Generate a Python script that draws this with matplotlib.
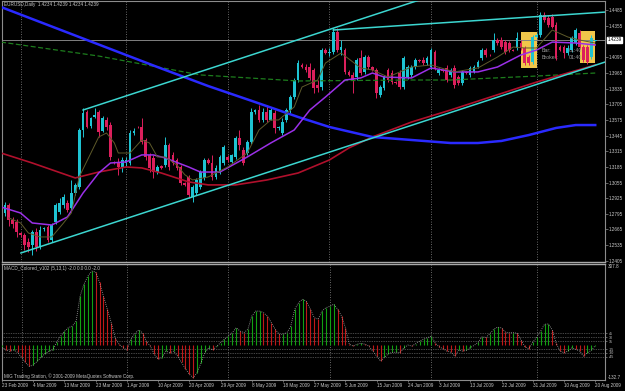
import matplotlib.pyplot as plt
from matplotlib.patches import Rectangle
from matplotlib.transforms import blended_transform_factory

plt.rcParams["font.family"] = ["Liberation Sans", "DejaVu Sans"]

# EURUSD daily bars (broker has Sunday bars)
opens = [
    1.2802, 1.2802, 1.2868, 1.2744, 1.2727, 1.2636, 1.2619, 1.2561, 1.2536, 1.2644,
    1.2520, 1.2669, 1.2686, 1.2578, 1.2727, 1.2810, 1.2868, 1.2885, 1.2844, 1.2968,
    1.3018, 1.3491, 1.3640, 1.3524, 1.3600, 1.3640, 1.3480, 1.3574, 1.3532, 1.3226,
    1.3226, 1.3184, 1.3217, 1.3217, 1.3466, 1.3516, 1.3516, 1.3408, 1.3284, 1.3259,
    1.3142, 1.3192, 1.3200, 1.3366, 1.3284, 1.3242, 1.3184, 1.3051, 1.3101, 1.2935,
    1.2968, 1.3018, 1.3093, 1.3242, 1.3217, 1.3101, 1.3142, 1.3217, 1.3267, 1.3226,
    1.3267, 1.3425, 1.3325, 1.3300, 1.3391, 1.3640, 1.3657, 1.3574, 1.3640, 1.3574,
    1.3632, 1.3507, 1.3466, 1.3574, 1.3657, 1.3765, 1.3906, 1.4031, 1.4014, 1.4014,
    1.3989, 1.3865, 1.3848, 1.4155, 1.4130, 1.4139, 1.4304, 1.4155, 1.4155, 1.3972,
    1.3948, 1.3931, 1.4089, 1.3972, 1.4097, 1.4014, 1.3989, 1.3782, 1.3840, 1.3989,
    1.3964, 1.3889, 1.3964, 1.3848, 1.3931, 1.3948, 1.4014, 1.4072, 1.4072, 1.4047,
    1.4014, 1.4139, 1.3964, 1.3989, 1.4006, 1.3948, 1.4006, 1.3931, 1.3881, 1.3973,
    1.3948, 1.3973, 1.4014, 1.4089, 1.4155, 1.4114, 1.4155, 1.4238, 1.4238, 1.4221,
    1.4213, 1.4155, 1.4172, 1.4213, 1.4172, 1.4097, 1.4055, 1.4263, 1.4280, 1.4445,
    1.4420, 1.4429, 1.4362, 1.4180, 1.4180, 1.4130, 1.4155, 1.4213, 1.4296, 1.4180,
    1.4180, 1.4097, 1.4234]
highs = [
    1.2827, 1.2893, 1.2885, 1.2769, 1.2752, 1.2644, 1.2636, 1.2595, 1.2661, 1.2678,
    1.2694, 1.2686, 1.2702, 1.2719, 1.2885, 1.2927, 1.2960, 1.2910, 1.3076, 1.3051,
    1.3507, 1.3674, 1.3657, 1.3600, 1.3674, 1.3657, 1.3607, 1.3599, 1.3557, 1.3234,
    1.3259, 1.3267, 1.3267, 1.3491, 1.3507, 1.3524, 1.3591, 1.3425, 1.3300, 1.3284,
    1.3200, 1.3200, 1.3433, 1.3383, 1.3309, 1.3259, 1.3200, 1.3060, 1.3117, 1.3035,
    1.3093, 1.3159, 1.3259, 1.3259, 1.3284, 1.3200, 1.3284, 1.3366, 1.3284, 1.3292,
    1.3441, 1.3491, 1.3350, 1.3408, 1.3674, 1.3665, 1.3699, 1.3674, 1.3699, 1.3674,
    1.3657, 1.3524, 1.3591, 1.3674, 1.3782, 1.3922, 1.4072, 1.4047, 1.4039, 1.4047,
    1.4006, 1.3906, 1.4172, 1.4172, 1.4172, 1.4338, 1.4338, 1.4238, 1.4172, 1.3989,
    1.3972, 1.4089, 1.4155, 1.4114, 1.4114, 1.4022, 1.4006, 1.3865, 1.3948, 1.4006,
    1.3989, 1.3898, 1.3989, 1.4105, 1.4031, 1.4031, 1.4089, 1.4080, 1.4097, 1.4105,
    1.4172, 1.4155, 1.4006, 1.3998, 1.4031, 1.4006, 1.4031, 1.3948, 1.3989, 1.3981,
    1.4022, 1.4031, 1.4072, 1.4172, 1.4172, 1.4122, 1.4296, 1.4255, 1.4263, 1.4238,
    1.4230, 1.4164, 1.4304, 1.4238, 1.4188, 1.4114, 1.4280, 1.4296, 1.4470, 1.4470,
    1.4445, 1.4454, 1.4387, 1.4197, 1.4197, 1.4197, 1.4271, 1.4338, 1.4321, 1.4197,
    1.4197, 1.4280, 1.4239]
lows = [
    1.2678, 1.2777, 1.2694, 1.2678, 1.2603, 1.2603, 1.2495, 1.2478, 1.2453, 1.2487,
    1.2503, 1.2653, 1.2561, 1.2561, 1.2711, 1.2794, 1.2844, 1.2810, 1.2827, 1.2951,
    1.3001, 1.3433, 1.3507, 1.3507, 1.3591, 1.3433, 1.3475, 1.3491, 1.3242, 1.3209,
    1.3117, 1.3142, 1.3192, 1.3200, 1.3449, 1.3507, 1.3375, 1.3242, 1.3142, 1.3093,
    1.3126, 1.3167, 1.3184, 1.3159, 1.3200, 1.3159, 1.3035, 1.3027, 1.2927, 1.2893,
    1.2952, 1.3001, 1.3076, 1.3209, 1.3076, 1.3084, 1.3126, 1.3200, 1.3226, 1.3217,
    1.3251, 1.3325, 1.3200, 1.3284, 1.3375, 1.3624, 1.3557, 1.3557, 1.3557, 1.3574,
    1.3466, 1.3491, 1.3449, 1.3557, 1.3632, 1.3748, 1.3889, 1.4006, 1.3973, 1.3906,
    1.3798, 1.3806, 1.3823, 1.4122, 1.4105, 1.4122, 1.4139, 1.4114, 1.3956, 1.3939,
    1.3798, 1.3906, 1.3948, 1.3956, 1.3998, 1.3981, 1.3757, 1.3765, 1.3823, 1.3889,
    1.3873, 1.3873, 1.3831, 1.3831, 1.3915, 1.3931, 1.3998, 1.4055, 1.4031, 1.4031,
    1.3998, 1.3989, 1.3948, 1.3973, 1.3889, 1.3931, 1.3840, 1.3865, 1.3865, 1.3956,
    1.3931, 1.3964, 1.4006, 1.4072, 1.4097, 1.4105, 1.4139, 1.4197, 1.4164, 1.4122,
    1.4139, 1.4147, 1.4155, 1.4155, 1.4031, 1.4031, 1.4039, 1.4255, 1.4263, 1.4387,
    1.4346, 1.4338, 1.4072, 1.4147, 1.4089, 1.4114, 1.4139, 1.4197, 1.4164, 1.4055,
    1.4039, 1.4080, 1.4234]
closes = [
    1.2702, 1.2868, 1.2744, 1.2711, 1.2644, 1.2619, 1.2536, 1.2520, 1.2644, 1.2520,
    1.2661, 1.2678, 1.2578, 1.2702, 1.2868, 1.2885, 1.2935, 1.2827, 1.2968, 1.3034,
    1.3491, 1.3632, 1.3516, 1.3590, 1.3615, 1.3475, 1.3591, 1.3516, 1.3267, 1.3217,
    1.3184, 1.3242, 1.3242, 1.3466, 1.3482, 1.3512, 1.3391, 1.3267, 1.3176, 1.3142,
    1.3184, 1.3176, 1.3366, 1.3184, 1.3217, 1.3176, 1.3051, 1.3035, 1.2952, 1.3018,
    1.3076, 1.3142, 1.3242, 1.3217, 1.3101, 1.3176, 1.3267, 1.3350, 1.3242, 1.3284,
    1.3425, 1.3366, 1.3217, 1.3391, 1.3640, 1.3657, 1.3574, 1.3640, 1.3574, 1.3657,
    1.3507, 1.3516, 1.3557, 1.3657, 1.3765, 1.3906, 1.4047, 1.4014, 1.3989, 1.3923,
    1.3840, 1.3840, 1.4155, 1.4130, 1.4139, 1.4304, 1.4155, 1.4180, 1.3972, 1.3948,
    1.3906, 1.4072, 1.3964, 1.4097, 1.4014, 1.3989, 1.3798, 1.3848, 1.3931, 1.3906,
    1.3889, 1.3881, 1.3848, 1.4089, 1.4014, 1.4014, 1.4072, 1.4064, 1.4047, 1.4089,
    1.4155, 1.4006, 1.3989, 1.3981, 1.3906, 1.3989, 1.3865, 1.3881, 1.3973, 1.3964,
    1.4006, 1.4014, 1.4055, 1.4155, 1.4114, 1.4110, 1.4238, 1.4213, 1.4180, 1.4139,
    1.4155, 1.4150, 1.4255, 1.4172, 1.4047, 1.4047, 1.4263, 1.4280, 1.4445, 1.4404,
    1.4362, 1.4346, 1.4089, 1.4155, 1.4130, 1.4172, 1.4255, 1.4321, 1.4180, 1.4072,
    1.4055, 1.4255, 1.4239]

# MACD_Colored histogram values per bar
macd = [
    -8, -19, -24, -19, -28, -47, -66, -81, -76, -62,
    -47, -33, -24, -19, 10, 34, 52, 66, 72, 91,
    186, 231, 262, 281, 277, 238, 186, 136, 85, 28,
    3, -10, -19, 22, 43, 57, 47, 14, -4, -35,
    -54, -48, -23, -29, -23, -42, -66, -90, -111, -124,
    -105, -67, -28, -10, -19, -5, 9, 22, 34, 47,
    66, 53, 47, 60, 110, 129, 129, 123, 110, 85,
    60, 41, 41, 47, 72, 136, 161, 174, 166, 136,
    104, 98, 129, 142, 147, 155, 136, 110, 66, 3,
    -4, 3, 7, 3, -4, -23, -42, -61, -47, -33,
    -28, -27, -29, -10, 0, -4, 5, 15, 22, 28,
    34, 7, -7, -14, -23, -27, -42, -19, -23, -20,
    -10, -1, 11, 31, 29, 43, 60, 68, 65, 49,
    47, 47, 45, 19, -7, -14, 11, 30, 53, 79,
    80, 57, 7, -23, -29, -23, -11, -16, -23, -42,
    -29, -20, -2]
macd_levels = [45, 30, 15, -15, -30, -45]

# moving averages, read at a few bars each
blue_bars = [0, 20, 40, 53, 65, 76, 84, 95, 105, 115, 122, 128, 135, 142, 147, 152]
blue_vals = [1.4512, 1.4263, 1.4014, 1.3856, 1.3723, 1.3599, 1.3516, 1.3433, 1.3408,
             1.3383, 1.3383, 1.3400, 1.3449, 1.3508, 1.3532, 1.3532]
green_bars = [0, 25, 51, 76, 105, 115, 137, 152]
green_vals = [1.4221, 1.4105, 1.3948, 1.3898, 1.3906, 1.3906, 1.3939, 1.3964]
red_bars = [0, 8, 19, 25, 32, 36, 41, 48, 53, 60, 68, 76, 84, 89, 95, 105, 115, 137, 152]
red_vals = [1.3300, 1.3217, 1.3093, 1.3142, 1.3184, 1.3176, 1.3134, 1.3060, 1.3035,
            1.3035, 1.3076, 1.3134, 1.3242, 1.3342, 1.3433, 1.3557, 1.3657, 1.3889, 1.4031]
purple_bars = [0, 5, 8, 13, 17, 21, 25, 28, 32, 36, 39, 42, 48, 51, 56, 63, 69, 75, 79,
               83, 88, 92, 95, 98, 105, 110, 116, 122, 127, 133, 137, 141, 147, 152]
purple_vals = [1.2852, 1.2802, 1.2719, 1.2702, 1.2769, 1.2968, 1.3134, 1.3217, 1.3226,
               1.3284, 1.3284, 1.3259, 1.3184, 1.3142, 1.3142, 1.3267, 1.3383, 1.3491,
               1.3657, 1.3765, 1.3906, 1.3923, 1.3964, 1.3931, 1.3923, 1.4006, 1.3973,
               1.3973, 1.4014, 1.4114, 1.4155, 1.4221, 1.4213, 1.4197]
olive_bars = [2, 5, 7, 10, 13, 16, 18, 20, 23, 25, 27, 29, 30, 33, 36, 38, 40, 42, 45, 47,
              49, 53, 58, 63, 66, 69, 71, 75, 77, 81, 83, 87, 92, 95, 99, 105, 110, 116,
              122, 127, 131, 134, 137, 141, 145, 148, 152]
olive_vals = [1.2761, 1.2719, 1.2636, 1.2603, 1.2603, 1.2719, 1.2802, 1.3101, 1.3300,
              1.3433, 1.3466, 1.3383, 1.3300, 1.3300, 1.3408, 1.3383, 1.3267, 1.3267,
              1.3200, 1.3120, 1.3076, 1.3101, 1.3184, 1.3300, 1.3491, 1.3574, 1.3574,
              1.3682, 1.3848, 1.3906, 1.4047, 1.4130, 1.4006, 1.3989, 1.3931, 1.4014,
              1.4031, 1.3973, 1.4006, 1.4097, 1.4180, 1.4172, 1.4172, 1.4321, 1.4263,
              1.4238, 1.4213]

# trend lines (two anchor points each)
channel_low = ([5.1, 154.5], [1.2470, 1.4055])
channel_high = ([21, 107], [1.3657, 1.4570])
resistance = ([85, 154.5], [1.4321, 1.4470])

# yellow rectangles: (first bar, last bar, low, high)
boxes = [(133, 137.1, 1.4006, 1.4304), (148.1, 151.9, 1.4047, 1.4313)]

price_ticks = [1.4485, 1.4355, 1.4095, 1.3965, 1.3835, 1.3705, 1.3575, 1.3445,
               1.3315, 1.3185, 1.3055, 1.2925, 1.2795, 1.2665, 1.2535, 1.2405]
date_labels = ["23 Feb 2009", "4 Mar 2009", "13 Mar 2009", "23 Mar 2009", "1 Apr 2009",
               "10 Apr 2009", "20 Apr 2009", "29 Apr 2009", "8 May 2009", "18 May 2009",
               "27 May 2009", "5 Jun 2009", "15 Jun 2009", "24 Jun 2009", "3 Jul 2009",
               "13 Jul 2009", "22 Jul 2009", "31 Jul 2009", "10 Aug 2009", "20 Aug 2009"]
date_bars = list(range(0, 153, 8))
month_bars = [5, 32, 58, 84, 110, 137]
last_price = 1.4239

BULL = "#1ec3d2"
BEAR = "#dc1f5c"
GRID = "#8a8a8a"
TXT = "#c8c8c8"
FS = 3.3

bars = list(range(len(closes)))

fig = plt.figure(figsize=(6.25, 3.91), dpi=100, facecolor="black")
ax = fig.add_axes([2 / 625, 129 / 391, 603 / 625, 261 / 391], facecolor="black")
ax2 = fig.add_axes([2 / 625, 11 / 391, 603 / 625, 116 / 391], facecolor="black")

# --- price panel ---
for b in month_bars:
    ax.axvline(b, color=GRID, lw=0.6, ls=(0, (1, 2)), zorder=1)
    ax2.axvline(b, color=GRID, lw=0.6, ls=(0, (1, 2)), zorder=1)

for x0, x1, lo, hi in boxes:
    ax.add_patch(Rectangle((x0, lo), x1 - x0, hi - lo, fc="#f0c64a", ec="none", zorder=2))

ax.axhline(last_price, color="#808080", lw=0.7, zorder=2)

colors = [BULL if c >= o else BEAR for o, c in zip(opens, closes)]
ax.vlines(bars, lows, highs, colors=colors, linewidth=0.7, zorder=3)
bottoms = [min(o, c) for o, c in zip(opens, closes)]
heights = [max(abs(c - o), 0.0004) for o, c in zip(opens, closes)]
ax.bar(bars, heights, bottom=bottoms, width=0.7, color=colors, linewidth=0, zorder=4)

ax.plot(green_bars, green_vals, color="#1d7d1d", lw=0.9, ls=(0, (4, 2)), zorder=5)
ax.plot(red_bars, red_vals, color="#b0102c", lw=1.2, zorder=5)
ax.plot(blue_bars, blue_vals, color="#2a2aff", lw=1.8, zorder=5)
ax.plot(purple_bars, purple_vals, color="#9b30e8", lw=1.1, zorder=6)
ax.plot(olive_bars, olive_vals, color="#5e5a2a", lw=0.7, zorder=6)
for xs, ys in (channel_low, channel_high, resistance):
    ax.plot(xs, ys, color="#3cd6d0", lw=1.1, zorder=6)

ax.set_xlim(0.26, 154.5)
ax.set_ylim(1.2395, 1.4562)
ax.yaxis.tick_right()
ax.set_yticks(price_ticks)
ax.set_yticklabels([f"{p:.4f}" for p in price_ticks])
ax.tick_params(axis="y", length=2, width=0.5, color=GRID, labelcolor=TXT, labelsize=FS, pad=1)
ax.tick_params(axis="x", bottom=False, labelbottom=False)

trans = blended_transform_factory(ax.transAxes, ax.transData)
ax.text(1.004, last_price, f"{last_price:.4f}", transform=trans, fontsize=FS, color="black",
        va="center", ha="left", bbox=dict(boxstyle="square,pad=0.15", fc="white", ec="white"))

ax.text(0.004, 0.985, "EURUSD,Daily  1.4234 1.4239 1.4234 1.4239", transform=ax.transAxes,
        fontsize=FS, color=TXT, va="center")
ax.text(0.8955, 0.812, "Bar:", transform=ax.transAxes, fontsize=3.8, color="#9a9a9a", va="center")
ax.text(0.9403, 0.812, "01:40", transform=ax.transAxes, fontsize=3.8, color="#9a9a9a", va="center")
ax.text(0.8955, 0.785, "Broker:", transform=ax.transAxes, fontsize=3.8, color="#9a9a9a", va="center")
ax.text(0.9403, 0.785, "01:40", transform=ax.transAxes, fontsize=3.8, color="#9a9a9a", va="center")

# --- MACD panel ---
for lv in macd_levels:
    ax2.axhline(lv, color=GRID, lw=0.5, ls=(0, (1, 1.5)), zorder=1)

hist_colors = ["#12a012" if i == 0 or v >= macd[i - 1] else "#c01818" for i, v in enumerate(macd)]
ax2.vlines(bars, 0, macd, colors=hist_colors, linewidth=0.8, zorder=3)
ax2.plot(bars, macd, color="#a8a8a8", lw=0.6, ls=(0, (1, 1.5)), zorder=4)

ax2.set_xlim(0.26, 154.5)
ax2.set_ylim(-132.7, 307.8)
ax2.yaxis.tick_right()
ax2.set_yticks(macd_levels)
ax2.set_yticklabels([str(lv) for lv in macd_levels])
ax2.tick_params(axis="y", length=1.5, width=0.5, color=GRID, labelcolor=TXT, labelsize=2.6, pad=1)
ax2.set_xticks(date_bars)
ax2.set_xticklabels(date_labels)
for lab in ax2.get_xticklabels():
    lab.set_ha("left")
ax2.tick_params(axis="x", length=1.5, width=0.5, color=GRID, labelcolor=TXT, labelsize=FS, pad=1)

trans2 = blended_transform_factory(ax2.transAxes, ax2.transData)
ax2.text(1.004, 307.8, "307.8", transform=trans2, fontsize=FS, color=TXT, va="top")
ax2.text(1.004, -132.7, "-132.7", transform=trans2, fontsize=FS, color=TXT, va="bottom")
ax2.text(0.003, 0.965, "MACD_Colored_v102 (5,13,1) -2.0 0.0 0.0 -2.0", transform=ax2.transAxes,
         fontsize=FS, color=TXT, va="center")
ax2.text(0.003, 0.035, "MIG Trading Station, \u00a9 2001-2009 MetaQuotes Software Corp.",
         transform=ax2.transAxes, fontsize=FS, color=TXT, va="center")

for a in (ax, ax2):
    for s in a.spines.values():
        s.set_color("#8c8c8c")
        s.set_linewidth(0.8)
ax.spines["bottom"].set_color("#a8a8a8")
ax.spines["bottom"].set_linewidth(1.0)
ax2.spines["top"].set_color("#a8a8a8")
ax2.spines["top"].set_linewidth(1.0)

fig.savefig("out.png", dpi=100, facecolor="black")
